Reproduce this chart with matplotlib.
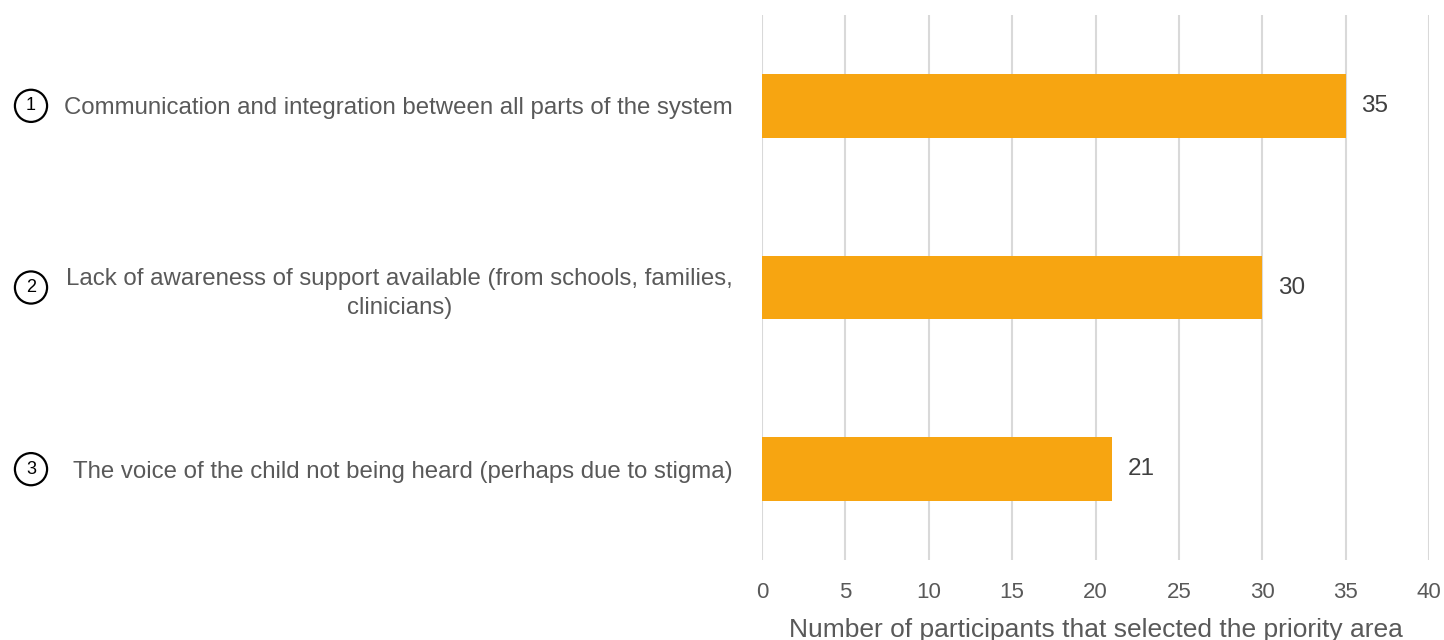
import matplotlib.pyplot as plt
from matplotlib import transforms

plt.rcParams['font.family'] = ['Liberation Sans', 'DejaVu Sans']

numbers = ['1', '2', '3']
labels = ['Communication and integration between all parts of the system',
          'Lack of awareness of support available (from schools, families,\nclinicians)',
          'The voice of the child not being heard (perhaps due to stigma)']
counts = [35, 30, 21]

BAR = '#F7A511'
GREY = '#595959'

fig = plt.figure(figsize=(14.44, 6.4), dpi=100)
ax = fig.add_axes([762 / 1444, 80 / 640, 667 / 1444, 545 / 640])

pos = list(range(len(counts)))
ax.barh(pos, counts, height=0.35, color=BAR, zorder=3)
ax.set_ylim(2.5, -0.5)
ax.set_xlim(0, 40)
ax.set_xticks(range(0, 41, 5))

for p, v in zip(pos, counts):
    ax.text(v + 0.95, p, str(v), va='center', ha='left', fontsize=17.5, color='#404040')

ax.set_yticks(pos)
ax.set_yticklabels(labels, fontsize=17.3, color=GREY)
for t in ax.get_yticklabels():
    t.set_multialignment('center')
    t.set_linespacing(1.4)
ax.tick_params(axis='y', length=0, pad=21)
ax.tick_params(axis='x', length=0, pad=16, labelsize=16, labelcolor=GREY)
for t in ax.get_xticklabels():
    t.set_family(['Liberation Sans Narrow', 'Liberation Sans'])

ax.grid(axis='x', color='#d9d9d9', linewidth=1.5, zorder=0)
for s in ax.spines.values():
    s.set_visible(False)

ax.set_xlabel('Number of participants that selected the priority area', fontsize=19,
              color=GREY, labelpad=11)

trans = transforms.blended_transform_factory(fig.transFigure, ax.transData)
for p, n in zip(pos, numbers):
    fig.text(31 / 1444, p, n, transform=trans, ha='center', va='center', fontsize=13,
             color='black',
             bbox=dict(boxstyle='circle,pad=0.42', fc='white', ec='black', lw=1.6))

fig.savefig('out.png', dpi=100)
